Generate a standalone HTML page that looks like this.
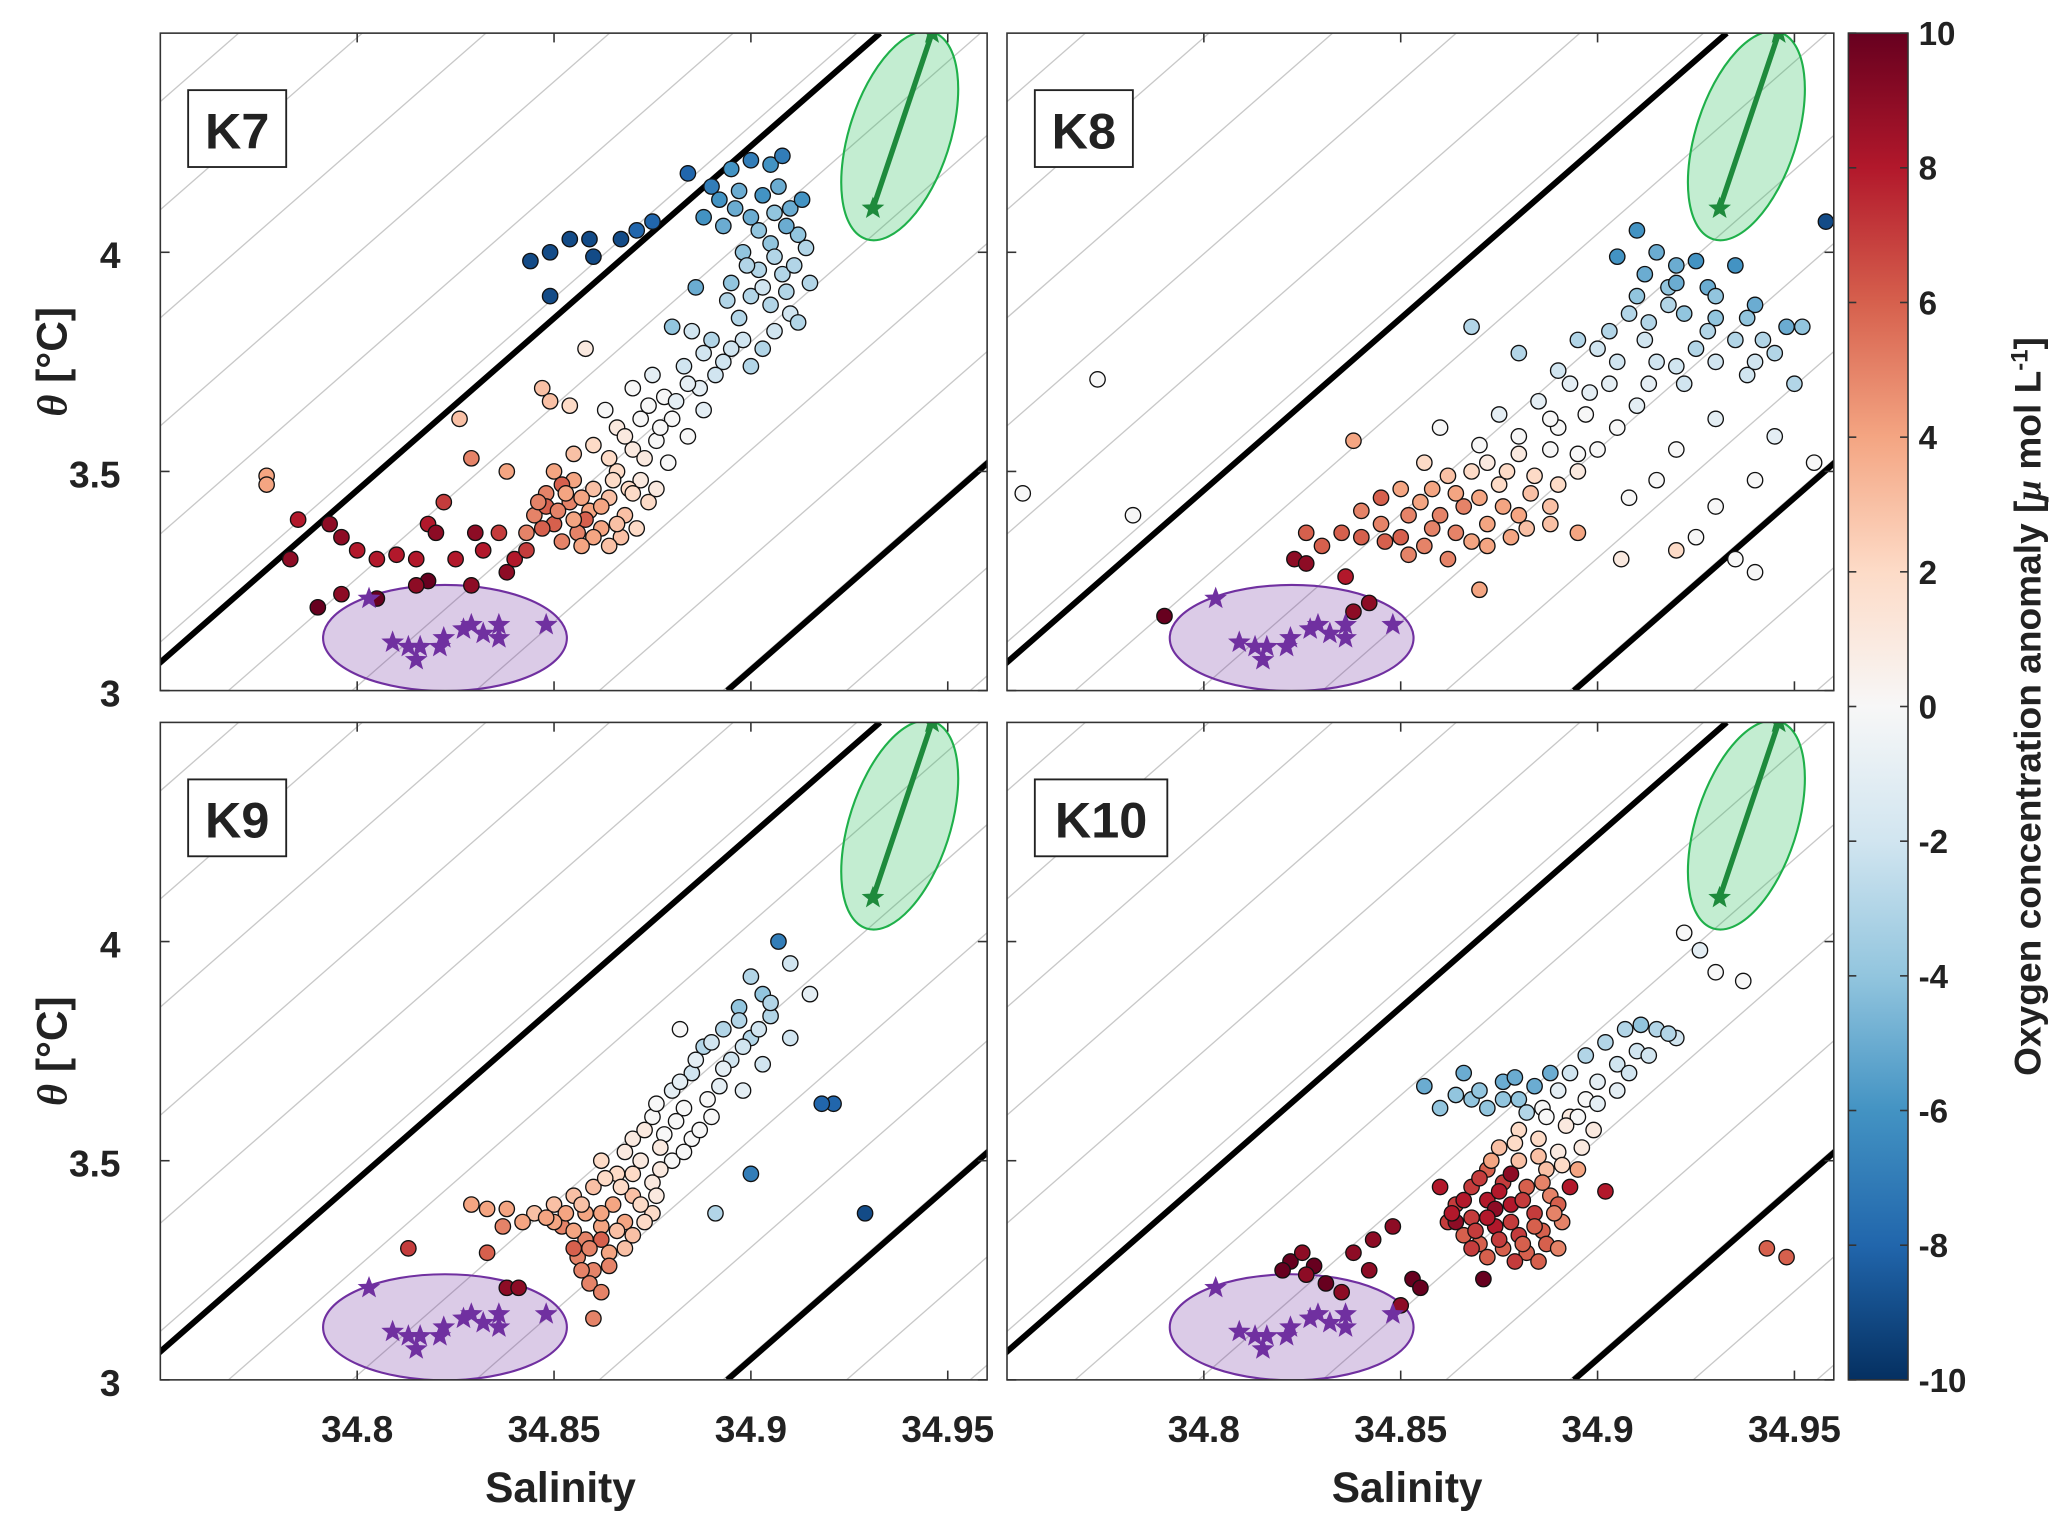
<!DOCTYPE html>
<html><head><meta charset="utf-8"><style>
html,body{margin:0;padding:0;background:#fff}
svg{display:block}
text{font-family:"Liberation Sans",Arial,sans-serif;font-weight:bold;fill:#222}
</style></head><body>
<svg id="fig" xmlns="http://www.w3.org/2000/svg" width="2067" height="1527" viewBox="0 0 1560 1152" preserveAspectRatio="none">
<defs>
<linearGradient id="cbgrad" x1="0" y1="0" x2="0" y2="1">
<stop offset="0" stop-color="#67001f"/><stop offset="0.1" stop-color="#b2182b"/><stop offset="0.2" stop-color="#d6604d"/><stop offset="0.3" stop-color="#f4a582"/><stop offset="0.4" stop-color="#fddbc7"/><stop offset="0.5" stop-color="#f7f7f7"/><stop offset="0.6" stop-color="#d1e5f0"/><stop offset="0.7" stop-color="#92c5de"/><stop offset="0.8" stop-color="#4393c3"/><stop offset="0.9" stop-color="#2166ac"/><stop offset="1" stop-color="#053061"/>
</linearGradient>
</defs>
<g id="layer"></g>
</svg>
<script>
const xTicks = [34.8, 34.85, 34.9, 34.95];
const xTickLabels = ["34.8", "34.85", "34.9", "34.95"];
const yTicks = [3, 3.5, 4];
const yTickLabels = ["3", "3.5", "4"];
const cbTicks = [10, 8, 6, 4, 2, 0, -2, -4, -6, -8, -10];
const panelNames = ["K7", "K8", "K9", "K10"];
const starS = [34.803,34.809,34.813,34.815,34.816,34.821,34.822,34.827,34.829,34.832,34.836,34.836,34.848];
const starT = [3.21,3.11,3.10,3.07,3.10,3.10,3.12,3.14,3.15,3.13,3.15,3.12,3.15];
const greenS = [34.931, 34.946];
const greenT = [4.10, 4.50];

const k7Points = [[34.844,3.98,-9],[34.849,4.00,-9],[34.854,4.03,-9],[34.859,4.03,-9],[34.867,4.03,-9],[34.871,4.05,-8],[34.875,4.07,-8],[34.849,3.90,-9],[34.860,3.99,-9],[34.884,4.18,-8],[34.89,4.15,-7],
[34.895,4.19,-6],[34.90,4.21,-7],[34.905,4.20,-6],[34.908,4.22,-7],[34.892,4.12,-6],[34.897,4.14,-5],[34.903,4.13,-6],[34.907,4.15,-5],[34.888,4.08,-6],[34.893,4.06,-5],[34.900,4.08,-5],[34.906,4.09,-4],[34.910,4.10,-5],[34.912,4.04,-4],[34.905,4.02,-4],[34.898,4.00,-4],[34.914,4.01,-3],[34.902,3.96,-3],[34.895,3.93,-4],[34.908,3.95,-3],[34.886,3.92,-5],[34.900,3.90,-3],[34.905,3.88,-3],[34.910,3.86,-2],[34.897,3.85,-3],[34.890,3.80,-3],[34.885,3.82,-2],[34.880,3.83,-4],[34.893,3.75,-2],[34.883,3.74,-2],[34.900,3.74,-3],[34.875,3.72,-1],[34.887,3.69,-1],[34.878,3.67,0],[34.870,3.69,0],[34.880,3.62,0],[34.872,3.62,0],[34.866,3.60,1],[34.876,3.57,0],[34.863,3.64,0],[34.858,3.78,1],[34.870,3.55,1],[34.860,3.56,2],[34.855,3.54,3],[34.866,3.50,2],[34.872,3.48,1],[34.874,3.43,2],
[34.850,3.50,4],[34.855,3.48,4],[34.860,3.46,3],[34.848,3.45,5],[34.854,3.43,5],[34.859,3.41,4],[34.864,3.44,3],[34.868,3.40,3],[34.845,3.40,5],[34.850,3.38,6],[34.856,3.36,5],[34.862,3.37,4],[34.867,3.35,3],[34.843,3.36,5],[34.848,3.42,6],[34.852,3.47,6],[34.858,3.39,6],
[34.777,3.49,4],[34.777,3.47,4],[34.826,3.62,3],[34.829,3.53,5],[34.847,3.69,3],[34.849,3.66,3],[34.854,3.65,2],[34.838,3.50,4],
[34.783,3.30,9],[34.785,3.39,8],[34.793,3.38,9],[34.796,3.35,9],[34.800,3.32,8],[34.805,3.30,8],[34.810,3.31,8],[34.815,3.30,8],[34.818,3.38,8],[34.820,3.36,9],[34.822,3.43,7],[34.825,3.30,8],[34.830,3.36,9],[34.832,3.32,8],[34.836,3.36,7],[34.838,3.27,9],[34.840,3.30,8],[34.843,3.32,7],[34.829,3.24,9],[34.818,3.25,10],[34.815,3.24,9],[34.805,3.21,10],[34.79,3.19,10],[34.796,3.22,9],
[34.896,4.10,-5],[34.902,4.05,-4],[34.909,4.06,-5],[34.913,4.12,-6],[34.899,3.97,-3],[34.906,3.99,-3],[34.911,3.97,-3],[34.894,3.89,-3],[34.903,3.92,-2],[34.909,3.91,-3],[34.915,3.93,-3],[34.898,3.80,-2],[34.906,3.82,-2],[34.912,3.84,-3],[34.888,3.77,-2],[34.895,3.78,-2],[34.903,3.78,-3],[34.884,3.70,-1],[34.891,3.72,-2],[34.881,3.66,-1],[34.888,3.64,-1],[34.874,3.65,0],[34.877,3.60,0],[34.884,3.58,0],[34.868,3.58,1],[34.873,3.53,1],[34.879,3.52,0],[34.864,3.53,2],[34.869,3.46,2],[34.876,3.46,1],[34.853,3.45,4],[34.857,3.44,4],[34.862,3.42,4],[34.866,3.38,3],[34.871,3.37,2],[34.846,3.43,5],[34.851,3.41,5],[34.855,3.39,4],[34.860,3.35,4],[34.864,3.33,3],[34.847,3.37,6],[34.852,3.34,5],[34.857,3.33,4],[34.870,3.45,2],[34.865,3.48,2]];

const k8Points = [[34.958,4.07,-9],
[34.905,3.99,-6],[34.910,4.05,-6],[34.915,4.00,-5],[34.920,3.97,-5],[34.925,3.98,-6],[34.935,3.97,-6],[34.928,3.92,-5],[34.918,3.92,-4],[34.910,3.90,-4],[34.940,3.88,-5],[34.948,3.83,-5],[34.952,3.83,-4],[34.930,3.85,-4],[34.922,3.86,-4],[34.913,3.84,-3],[34.903,3.82,-3],[34.895,3.80,-3],[34.935,3.80,-3],[34.945,3.77,-3],[34.925,3.78,-3],[34.915,3.75,-2],[34.905,3.75,-2],[34.890,3.73,-2],[34.880,3.77,-3],[34.868,3.83,-3],[34.922,3.70,-2],[34.938,3.72,-2],[34.950,3.70,-3],[34.898,3.68,-1],[34.885,3.66,-1],[34.875,3.63,-1],[34.910,3.65,-1],[34.930,3.62,-1],[34.860,3.60,0],[34.870,3.56,0],[34.880,3.58,0],[34.890,3.60,0],[34.900,3.55,0],[34.920,3.55,0],[34.945,3.58,-1],[34.955,3.52,0],[34.940,3.48,0],[34.915,3.48,0],[34.930,3.42,0],[34.908,3.44,0],[34.895,3.50,1],[34.925,3.35,0],[34.935,3.30,0],[34.940,3.27,0],[34.906,3.30,1],[34.920,3.32,2],[34.773,3.71,0],[34.754,3.45,0],[34.782,3.40,0],
[34.856,3.52,2],[34.862,3.49,3],[34.868,3.50,2],[34.875,3.47,2],[34.883,3.45,3],[34.850,3.46,4],[34.855,3.43,4],[34.860,3.40,5],[34.866,3.42,5],[34.872,3.38,4],[34.880,3.40,4],[34.888,3.42,3],[34.840,3.41,5],[34.845,3.38,5],[34.850,3.35,6],[34.856,3.33,5],[34.862,3.30,5],[34.868,3.34,4],[34.835,3.36,6],[34.830,3.33,6],[34.826,3.36,6],[34.845,3.44,6],[34.895,3.36,4],[34.870,3.23,4],[34.838,3.57,4],
[34.790,3.17,10],[34.823,3.30,9],[34.826,3.29,9],[34.838,3.18,9],[34.842,3.20,9],[34.836,3.26,8],
[34.912,3.95,-5],[34.920,3.93,-5],[34.930,3.90,-4],[34.938,3.85,-4],[34.918,3.88,-3],[34.908,3.86,-3],[34.928,3.82,-3],[34.942,3.80,-3],[34.900,3.78,-2],[34.912,3.80,-2],[34.920,3.74,-2],[34.930,3.75,-2],[34.940,3.75,-2],[34.893,3.70,-1],[34.903,3.70,-1],[34.913,3.70,-1],[34.888,3.62,0],[34.897,3.63,0],[34.905,3.60,0],[34.880,3.54,1],[34.888,3.55,0],[34.895,3.54,0],[34.872,3.52,1],[34.877,3.50,2],[34.884,3.49,2],[34.890,3.47,2],[34.858,3.46,4],[34.864,3.45,4],[34.870,3.44,4],[34.876,3.42,4],[34.852,3.40,5],[34.858,3.37,5],[34.864,3.36,5],[34.872,3.33,4],[34.878,3.35,4],[34.846,3.34,6],[34.852,3.31,5],[34.840,3.35,6],[34.882,3.37,3],[34.888,3.38,3]];

const k9Points = [[34.907,4.00,-7],[34.900,3.92,-3],[34.910,3.95,-2],[34.915,3.88,-1],[34.903,3.88,-4],[34.897,3.85,-4],[34.905,3.83,-3],[34.893,3.80,-3],[34.900,3.78,-3],[34.910,3.78,-2],[34.888,3.76,-3],[34.895,3.73,-2],[34.903,3.72,-2],[34.885,3.70,-2],[34.892,3.67,-1],[34.898,3.66,-1],[34.880,3.66,-1],[34.883,3.62,0],[34.890,3.60,0],[34.875,3.60,0],[34.878,3.56,0],[34.885,3.55,0],[34.870,3.55,1],[34.872,3.50,1],[34.880,3.50,0],[34.866,3.47,2],[34.862,3.50,2],[34.875,3.45,1],[34.882,3.80,0],[34.921,3.63,-8],[34.918,3.63,-8],[34.900,3.47,-7],[34.929,3.38,-9],[34.891,3.38,-3],
[34.860,3.44,3],[34.855,3.42,3],[34.850,3.40,3],[34.845,3.38,3],[34.858,3.38,4],[34.865,3.40,4],[34.870,3.42,3],[34.852,3.35,5],[34.858,3.32,5],[34.862,3.35,4],[34.868,3.36,4],[34.856,3.28,5],[34.860,3.25,5],[34.864,3.29,4],[34.859,3.22,5],[34.868,3.30,3],[34.875,3.38,2],[34.842,3.36,4],[34.838,3.39,4],[34.862,3.32,6],[34.855,3.30,6],[34.860,3.14,5],[34.833,3.39,4],[34.829,3.40,4],[34.837,3.35,5],
[34.813,3.30,7],[34.833,3.29,6],[34.838,3.21,9],[34.841,3.21,9],
[34.905,3.86,-3],[34.897,3.82,-3],[34.902,3.80,-2],[34.890,3.77,-2],[34.898,3.76,-2],[34.886,3.73,-1],[34.893,3.71,-1],[34.882,3.68,-1],[34.889,3.64,0],[34.876,3.63,0],[34.881,3.59,0],[34.887,3.57,0],[34.873,3.57,1],[34.877,3.53,1],[34.883,3.52,0],[34.868,3.52,1],[34.870,3.47,2],[34.877,3.48,1],[34.863,3.46,2],[34.867,3.44,2],[34.872,3.40,2],[34.853,3.38,4],[34.857,3.40,3],[34.862,3.38,4],[34.866,3.34,3],[34.850,3.36,4],[34.855,3.34,4],[34.859,3.30,5],[34.864,3.26,5],[34.857,3.25,5],[34.862,3.20,5],[34.848,3.37,4],[34.870,3.33,3],[34.873,3.36,2],[34.876,3.42,1]];

const k10Points = [[34.922,4.02,0],[34.926,3.98,-1],[34.930,3.93,0],[34.937,3.91,0],[34.911,3.81,-4],[34.915,3.80,-3],[34.907,3.80,-3],[34.920,3.78,-2],[34.902,3.77,-3],[34.910,3.75,-2],[34.897,3.74,-3],[34.905,3.72,-2],[34.893,3.70,-2],[34.900,3.68,-1],[34.890,3.66,-1],[34.897,3.64,0],[34.886,3.62,0],[34.893,3.60,1],
[34.856,3.67,-5],[34.860,3.62,-4],[34.866,3.70,-5],[34.868,3.64,-4],[34.872,3.62,-4],[34.876,3.68,-5],[34.879,3.69,-5],[34.880,3.64,-4],[34.884,3.67,-5],[34.888,3.70,-5],[34.882,3.61,-3],
[34.880,3.57,2],[34.885,3.55,2],[34.890,3.52,1],[34.875,3.53,3],[34.880,3.50,3],[34.887,3.48,3],[34.872,3.48,6],[34.876,3.45,7],[34.882,3.44,6],[34.888,3.42,5],[34.868,3.44,7],[34.872,3.41,8],[34.878,3.40,8],[34.884,3.38,7],[34.890,3.40,6],[34.864,3.40,7],[34.868,3.37,7],[34.874,3.35,8],[34.880,3.33,7],[34.886,3.34,6],[34.891,3.36,5],[34.870,3.31,6],[34.876,3.30,6],[34.882,3.29,6],[34.862,3.36,7],[34.866,3.33,6],[34.860,3.44,8],[34.893,3.44,8],[34.902,3.43,8],[34.878,3.47,9],[34.874,3.39,9],[34.895,3.48,4],
[34.943,3.30,6],[34.948,3.28,6],
[34.838,3.29,9],[34.843,3.32,9],[34.848,3.35,9],[34.822,3.27,10],[34.825,3.29,9],[34.828,3.26,10],[34.853,3.23,10],[34.855,3.21,10],[34.850,3.17,9],[34.871,3.23,10],[34.864,3.36,9],[34.820,3.25,10],[34.826,3.24,9],[34.831,3.22,10],[34.835,3.20,9],[34.842,3.25,9],
[34.873,3.50,4],[34.879,3.54,2],[34.885,3.51,3],[34.891,3.49,2],[34.896,3.53,1],[34.870,3.46,7],[34.875,3.43,8],[34.881,3.41,7],[34.886,3.45,5],[34.866,3.41,8],[34.872,3.37,8],[34.878,3.36,7],[34.884,3.35,6],[34.889,3.38,5],[34.863,3.38,8],[34.869,3.34,7],[34.875,3.32,7],[34.881,3.31,6],[34.887,3.31,6],[34.872,3.28,6],[34.879,3.27,7],[34.885,3.27,6],[34.890,3.30,5],[34.868,3.30,7],[34.895,3.60,0],[34.900,3.63,-1],[34.905,3.66,-1],[34.908,3.70,-2],[34.899,3.57,1],[34.892,3.58,1],[34.887,3.60,0],[34.913,3.74,-2],[34.918,3.79,-3],[34.870,3.66,-4],[34.876,3.64,-4],[34.864,3.65,-4]];

const allPoints = [k7Points, k8Points, k9Points, k10Points];

const NS = "http://www.w3.org/2000/svg";
const layer = document.getElementById("layer");
const W = 624, H = 496, S0 = 34.75, S1 = 34.96, T0 = 3, T1 = 4.5;
const SLOPE_DS = 0.191; // salinity shift between theta 3 and 4.5 along an isopycnal
const origins = [[121,25],[760,25],[121,545],[760,545]];
const cmapStops = [[-10,[5,48,97]],[-8,[33,102,172]],[-6,[67,147,195]],[-4,[146,197,222]],[-2,[209,229,240]],[0,[247,247,247]],[2,[253,219,199]],[4,[244,165,130]],[6,[214,96,77]],[8,[178,24,43]],[10,[103,0,31]]];
function cmap(v){
  v = Math.max(-10, Math.min(10, v));
  for (let i=0;i<cmapStops.length-1;i++){
    const a=cmapStops[i], b=cmapStops[i+1];
    if (v>=a[0] && v<=b[0]){
      const t=(v-a[0])/(b[0]-a[0]);
      const c=a[1].map((x,j)=>Math.round(x+(b[1][j]-x)*t));
      return "rgb("+c.join(",")+")";
    }
  }
  return "#fff";
}
function mk(tag, attrs, parent){
  const e=document.createElementNS(NS,tag);
  for (const k in attrs) e.setAttribute(k, attrs[k]);
  (parent||layer).appendChild(e);
  return e;
}
function starPath(cx,cy,r){
  let d="";
  for(let i=0;i<10;i++){
    const ang=-Math.PI/2+i*Math.PI/5, rr=(i%2===0)?r:r*0.42;
    d+=(i?"L":"M")+(cx+rr*Math.cos(ang)).toFixed(1)+","+(cy+rr*Math.sin(ang)).toFixed(1);
  }
  return d+"Z";
}

origins.forEach((o,pi)=>{
  const x0=o[0], y0=o[1];
  const sx=s=>x0+(s-S0)/(S1-S0)*W;
  const sy=t=>y0+H-(t-T0)/(T1-T0)*H;
  const g=mk("g",{});
  
  
  const clip=mk("clipPath",{id:"clip"+pi},g);
  mk("rect",{x:x0,y:y0,width:W,height:H},clip);
  const inner=mk("g",{"clip-path":"url(#clip"+pi+")"},g);
  // thin isopycnals
  for(let k=-10;k<=12;k++){
    const stp=34.7699+k*0.0314;
    const ln=mk("line",{x1:sx(stp-SLOPE_DS),y1:sy(3),x2:sx(stp),y2:sy(4.5),stroke:"#c8c8c8","stroke-width":1},inner);
    
    
  }
  [34.9328, 35.085].forEach(stp=>{
    const ln=mk("line",{x1:sx(stp-SLOPE_DS),y1:sy(3),x2:sx(stp),y2:sy(4.5),stroke:"#000","stroke-width":4.5},inner);
    
    
  });
  const pe=mk("ellipse",{cx:sx(34.8223),cy:sy(3.12),rx:92,ry:40,fill:"rgba(112,48,160,0.25)",stroke:"#7030a0","stroke-width":1.6},inner);
  
  
  const gcx=sx(34.9378), gcy=sy(4.266);
  const ge=mk("ellipse",{cx:gcx,cy:gcy,rx:38,ry:82,transform:"rotate(18,"+gcx+","+gcy+")",fill:"rgba(40,190,90,0.28)",stroke:"#1fb04a","stroke-width":1.6},inner);
  
  
  allPoints[pi].forEach(p=>{
    const c=mk("circle",{cx:sx(p[0]),cy:sy(p[1]),r:5.8,fill:cmap(p[2]),stroke:"#111","stroke-width":1},inner);
    
    
  });
  const gl=mk("line",{x1:sx(greenS[0]),y1:sy(greenT[0]),x2:sx(greenS[1]),y2:sy(greenT[1]),stroke:"#1e8a3c","stroke-width":4},inner);
  
  
  greenS.forEach((s,i)=>{
    const st=mk("path",{d:starPath(sx(s),sy(greenT[i]),9),fill:"#1e8a3c"},inner);
    
    
  });
  starS.forEach((s,i)=>{
    const st=mk("path",{d:starPath(sx(s),sy(starT[i]),9),fill:"#7030a0"},inner);
    
    
  });
  const fr=mk("rect",{x:x0,y:y0,width:W,height:H,fill:"none",stroke:"#333","stroke-width":1.2},g);
  
  
  xTicks.forEach((t,i)=>{
    const x=sx(t);
    mk("line",{x1:x,y1:y0+H,x2:x,y2:y0+H-7,stroke:"#333","stroke-width":1.2},g);
    mk("line",{x1:x,y1:y0,x2:x,y2:y0+7,stroke:"#333","stroke-width":1.2},g);
    if(pi>=2){
      const tx=mk("text",{x:x,y:y0+H+47,"text-anchor":"middle","font-size":28},g);
      tx.textContent=xTickLabels[i];
      
      
    }
  });
  yTicks.forEach((t,i)=>{
    const y=sy(t);
    mk("line",{x1:x0,y1:y,x2:x0+7,y2:y,stroke:"#333","stroke-width":1.2},g);
    mk("line",{x1:x0+W,y1:y,x2:x0+W-7,y2:y,stroke:"#333","stroke-width":1.2},g);
    if(pi%2===0){
      const tx=mk("text",{x:x0-30,y:y+12,"text-anchor":"end","font-size":28},g);
      tx.textContent=yTickLabels[i];
      
      
    }
  });
  const bw = panelNames[pi].length>2 ? 100 : 74;
  const lb=mk("rect",{x:x0+21,y:y0+43,width:bw,height:58,fill:"#fff",stroke:"#222","stroke-width":1.4},g);
  
  
  const lt=mk("text",{x:x0+21+bw/2,y:y0+87,"text-anchor":"middle","font-size":38,fill:"#111"},g);
  lt.textContent=panelNames[pi];
  
  
  if(pi%2===0){
    const yt=mk("text",{x:0,y:0,transform:"translate(50,"+(y0+H/2)+") rotate(-90)","text-anchor":"middle","font-size":32},g);
    yt.innerHTML='<tspan font-family="Liberation Serif, serif" font-style="italic">θ</tspan> [°C]';
    
    
  }
  if(pi>=2){
    const xt=mk("text",{x:x0+W/2-10,y:1133,"text-anchor":"middle","font-size":32},g);
    xt.textContent="Salinity";
    
    
  }
});

const cb=mk("g",{});


const cbX=1395, cbY=25, cbW=45, cbH=1016;
const cbr=mk("rect",{x:cbX,y:cbY,width:cbW,height:cbH,fill:"url(#cbgrad)",stroke:"#333","stroke-width":1.2},cb);


cbTicks.forEach(v=>{
  const y=cbY+(10-v)/20*cbH;
  mk("line",{x1:cbX,y1:y,x2:cbX+6,y2:y,stroke:"#333","stroke-width":1.2},cb);
  mk("line",{x1:cbX+cbW,y1:y,x2:cbX+cbW-6,y2:y,stroke:"#333","stroke-width":1.2},cb);
  const t=mk("text",{x:cbX+cbW+8,y:y+9,"font-size":25},cb);
  t.textContent=String(v);
  
  
});
const cbt=mk("text",{x:0,y:0,transform:"translate(1540,533) rotate(-90)","text-anchor":"middle","font-size":28},cb);
cbt.innerHTML='Oxygen concentration anomaly [<tspan font-family="Liberation Serif, serif" font-style="italic">μ</tspan> mol L<tspan dy="-10" font-size="18">-1</tspan><tspan dy="10">]</tspan>';


</script>
</body></html>
